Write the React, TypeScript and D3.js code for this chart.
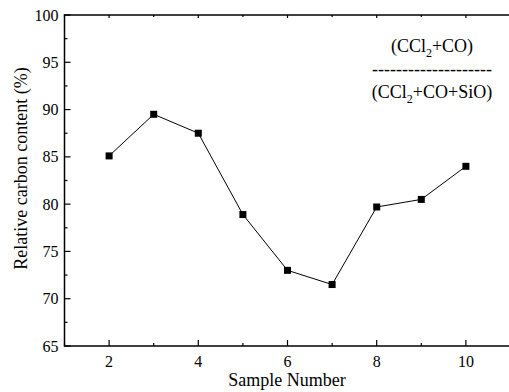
import React from "react";
import * as d3 from "d3";

const samples = [2, 3, 4, 5, 6, 7, 8, 9, 10];
const carbon = [85.1, 89.5, 87.5, 78.9, 73.0, 71.5, 79.7, 80.5, 84.0];
const xMajorTicks = [2, 4, 6, 8, 10];
const xMinorTicks = [1, 3, 5, 7, 9, 11];
const yMajorTicks = [65, 70, 75, 80, 85, 90, 95, 100];
const yMinorTicks = [67.5, 72.5, 77.5, 82.5, 87.5, 92.5, 97.5];
const xTitle = "Sample Number";
const yTitle = "Relative carbon content (%)";

const W = 509;
const H = 392;
const left = 64.5;
const right = 510.5;
const top = 15;
const bottom = 346;
const FONT = "'Liberation Serif', 'Times New Roman', serif";

export default function App() {
  const x = d3.scaleLinear().domain([1, 11]).range([left, right]);
  const y = d3.scaleLinear().domain([65, 100]).range([bottom, top]);
  const pts = samples.map((s, i) => [x(s), y(carbon[i])] as [number, number]);
  const line = d3.line()(pts) || "";
  const ms = 7;
  return (
    <svg
      width={W}
      height={H}
      style={{ position: "absolute", left: 0, top: 0, background: "#fff" }}
      fontFamily={FONT}
    >
      <rect x={0} y={0} width={W} height={H} fill="#fff" />
      {/* frame */}
      <line x1={left} x2={right + 2} y1={bottom} y2={bottom} stroke="#000" strokeWidth={1.5} />
      <line x1={left} x2={right + 2} y1={top} y2={top} stroke="#000" strokeWidth={1.5} />
      <line x1={left} x2={left} y1={top - 0.75} y2={bottom + 0.75} stroke="#000" strokeWidth={1.5} />
      <line x1={right + 2} x2={right + 2} y1={top} y2={bottom} stroke="#000" strokeWidth={1.5} />
      {/* x ticks */}
      {xMajorTicks.map((t) => (
        <g key={"xm" + t}>
          <line x1={x(t)} x2={x(t)} y1={bottom} y2={bottom - 6} stroke="#000" strokeWidth={1.2} />
          <line x1={x(t)} x2={x(t)} y1={top} y2={top + 3} stroke="#000" strokeWidth={1.2} />
          <text x={x(t)} y={bottom + 21} fontSize={16} textAnchor="middle">
            {t}
          </text>
        </g>
      ))}
      {xMinorTicks.map((t) => (
        <g key={"xn" + t}>
          <line x1={x(t)} x2={x(t)} y1={bottom} y2={bottom - 3} stroke="#000" strokeWidth={1.2} />
          <line x1={x(t)} x2={x(t)} y1={top} y2={top + 2} stroke="#000" strokeWidth={1.2} />
        </g>
      ))}
      {/* y ticks */}
      {yMajorTicks.map((t) => (
        <g key={"ym" + t}>
          <line x1={left} x2={left + 6} y1={y(t)} y2={y(t)} stroke="#000" strokeWidth={1.2} />
          <text x={left - 6} y={y(t) + 5.5} fontSize={16} textAnchor="end">
            {t}
          </text>
        </g>
      ))}
      {yMinorTicks.map((t) => (
        <line key={"yn" + t} x1={left} x2={left + 3} y1={y(t)} y2={y(t)} stroke="#000" strokeWidth={1.2} />
      ))}
      {/* titles */}
      <text x={287} y={386} fontSize={18} textAnchor="middle">
        {xTitle}
      </text>
      <text
        transform={`translate(27,${(top + bottom) / 2 - 12}) rotate(-90)`}
        fontSize={18}
        textAnchor="middle"
      >
        {yTitle}
      </text>
      {/* data */}
      <path d={line} fill="none" stroke="#000" strokeWidth={1} />
      {pts.map(([px, py], i) => (
        <rect key={i} x={px - ms / 2} y={py - ms / 2} width={ms} height={ms} fill="#000" />
      ))}
      {/* annotation */}
      <text x={432} y={52} fontSize={18} textAnchor="middle">
        (CCl<tspan fontSize={12} dy={5}>2</tspan>
        <tspan dy={-5}>+CO)</tspan>
      </text>
      <text x={432} y={75} fontSize={18} textAnchor="middle">
        --------------------
      </text>
      <text x={432} y={98} fontSize={18} textAnchor="middle">
        (CCl<tspan fontSize={12} dy={5}>2</tspan>
        <tspan dy={-5}>+CO+SiO)</tspan>
      </text>
    </svg>
  );
}
